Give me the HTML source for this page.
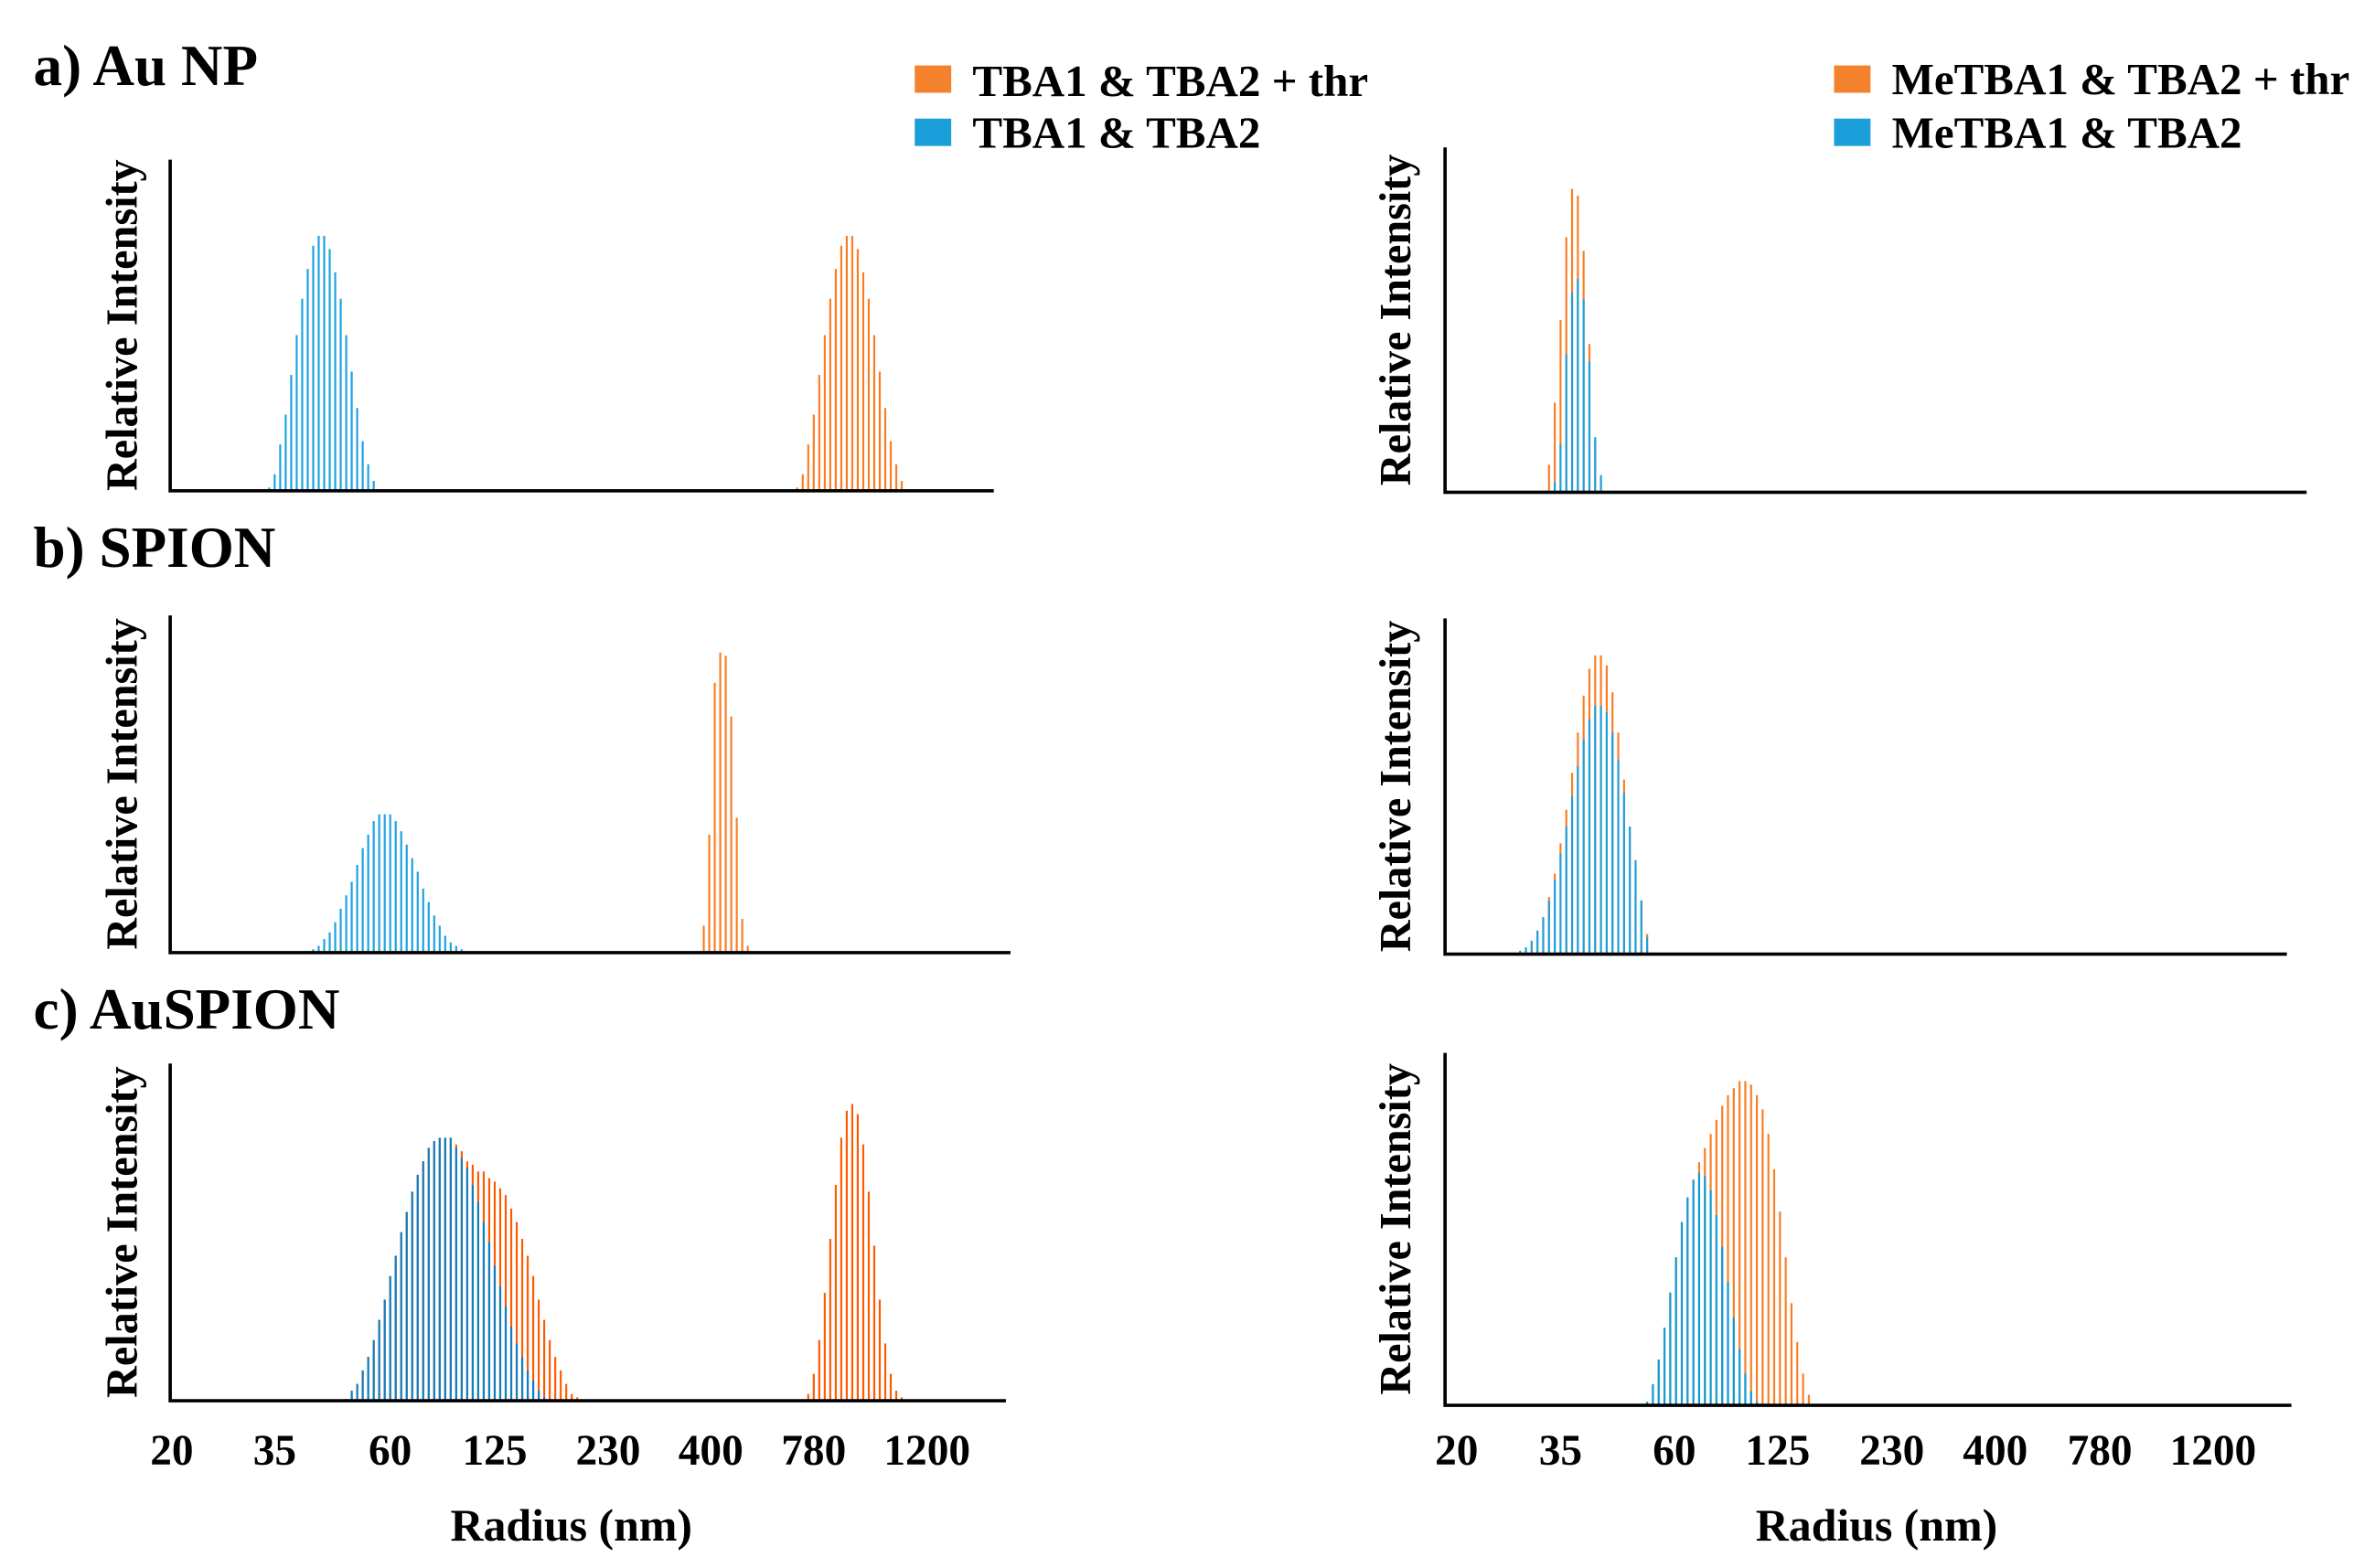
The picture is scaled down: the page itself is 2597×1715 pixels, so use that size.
<!DOCTYPE html>
<html><head><meta charset="utf-8"><title>DLS size distributions</title>
<style>
html,body{margin:0;padding:0;background:#fff;}
svg{display:block;}
text{font-family:"Liberation Serif",serif;font-weight:bold;fill:#000;}
</style></head>
<body>
<svg id="chart" width="2597" height="1715" viewBox="0 0 1563 1032" xmlns="http://www.w3.org/2000/svg">
  <g>
    <text x="22" y="56" font-size="38">a) Au NP</text>
    <text x="22" y="373" font-size="38">b) SPION</text>
    <text x="22" y="677" font-size="38">c) AuSPION</text>
  </g>
  <g>
    <rect x="602" y="43" width="24" height="18" fill="#F4812C"/>
    <text x="640" y="63" font-size="29.5">TBA1 &amp; TBA2 + thr</text>
    <rect x="602" y="78" width="24" height="18" fill="#1A9FDB"/>
    <text x="640" y="97" font-size="29.5">TBA1 &amp; TBA2</text>
  </g>
  <g>
    <rect x="1207" y="43" width="24" height="18" fill="#F4812C"/>
    <text x="1245" y="62" font-size="29.5">MeTBA1 &amp; TBA2 + thr</text>
    <rect x="1207" y="78" width="24" height="18" fill="#1A9FDB"/>
    <text x="1245" y="97" font-size="29.5">MeTBA1 &amp; TBA2</text>
  </g>
  <g id="plots"></g>
</svg>
<script>
// tick labels (radius, nm) and their bin positions
const tickLabels = ["20","35","60","125","230","400","780","1200"];
const leftTickBins = [0.3, 19, 40, 59, 79.6, 98.3, 117, 137.6];
const rightTickBins = [2, 20, 39.7, 57.6, 77.4, 95.3, 113.4, 133];

// Panel a, left
const aLeftBlueStart = 18;
const aLeftBlue = [1,5,14,23,35,47,58,67,74,77,77,73,66,58,47,36,25,15,8,3];
const aLeftOrangeStart = 114;
const aLeftOrange = [1,5,14,23,35,47,58,67,74,77,77,73,66,58,47,36,25,15,8,3];
// Panel a, right
const aRightOrangeStart = 18;
const aRightOrange = [8,26,50,74,88,86,70,43,15,4];
const aRightBlueStart = 19;
const aRightBlue = [3,14,40,58,62,56,38,16,5];
// Panel b, left
const bLeftBlueStart = 26;
const bLeftBlue = [1,2,4,6,9,13,17,21,26,31,35,39,41,41,41,39,36,32,28,24,19,15,11,8,5,3,2,1];
const bLeftOrangeStart = 97;
const bLeftOrange = [8,35,80,89,88,70,40,10,2];
// Panel b, right
const bRightOrangeStart = 13;
const bRightOrange = [1,2,4,7,11,17,24,33,43,54,66,77,85,89,89,86,78,66,52,38,26,16,6];
const bRightBlueStart = 13;
const bRightBlue = [1,2,4,7,11,16,22,30,38,47,56,64,70,74,74,72,66,58,48,38,28,16,5];
// Panel c, left
const cLeftBlueStart = 32;
const cLeftBlue = [0.5,3,5,9,13,18,24,30,37,43,50,56,62,67,71,75,77,78,78,78,75,72,69,64,59,53,47,40,34,28,22,17,13,9,6,3,1,0.5];
const cLeftOrangeStart = 32;
const cLeftOrange = [0.5,3,5,9,13,18,24,30,37,43,50,56,62,67,71,75,77,78,78,78,76,74,71,70,68,68,66,65,63,61,57,53,48,43,37,30,24,18,13,9,5,2,1];
const cLeftOrange2Start = 116;
const cLeftOrange2 = [2,8,18,32,48,64,78,86,88,85,76,62,46,30,17,8,3,1];
// Panel c, right
const cRightBlueStart = 35;
const cRightBlue = [1,6,13,22,32,42,52,59,64,66,65,61,54,45,35,25,16,9,4,1];
const cRightOrangeStart = 35;
const cRightOrange = [1,6,13,22,32,42,52,59,64,69,73,77,81,85,88,90,92,92,91,88,84,77,67,55,42,29,18,9,3];

const NS = "http://www.w3.org/2000/svg";
const root = document.getElementById("plots");

const panels = [
  {id:"a-left", x0:112, x1:654, top:105, base:323, step:3.62, ticks:false, yt:90,
   series:[[aLeftOrangeStart,aLeftOrange,"#FA7D22"],[aLeftBlueStart,aLeftBlue,"#1BA1E2"]]},
  {id:"a-right", x0:951, x1:1518, top:97, base:324, step:3.8, ticks:false, yt:928,
   series:[[aRightOrangeStart,aRightOrange,"#FA7D22"],[aRightBlueStart,aRightBlue,"#1BA1E2"]]},
  {id:"b-left", x0:112, x1:665, top:405, base:627, step:3.62, ticks:false, yt:90,
   series:[[bLeftOrangeStart,bLeftOrange,"#FA7D22"],[bLeftBlueStart,bLeftBlue,"#1BA1E2"]]},
  {id:"b-right", x0:951, x1:1505, top:407, base:628, step:3.8, ticks:false, yt:928,
   series:[[bRightOrangeStart,bRightOrange,"#FA7D22"],[bRightBlueStart,bRightBlue,"#1BA1E2"]]},
  {id:"c-left", x0:112, x1:662, top:700, base:922, step:3.62, ticks:true, tb:leftTickBins, xt:376, yt:90,
   series:[[cLeftOrangeStart,cLeftOrange,"#FF5A00"],[cLeftOrange2Start,cLeftOrange2,"#FF5A00"],[cLeftBlueStart,cLeftBlue,"#0A7FC6"]]},
  {id:"c-right", x0:951, x1:1508, top:693, base:925, step:3.8, ticks:true, tb:rightTickBins, xt:1235, yt:928,
   series:[[cRightOrangeStart,cRightOrange,"#FA7D22"],[cRightBlueStart,cRightBlue,"#0A9DDB"]]}
];

function mk(tag, attrs){ const e=document.createElementNS(NS,tag); for(const k in attrs) e.setAttribute(k,attrs[k]); return e; }

panels.forEach(p=>{
  const g = mk("g",{});
  
  
  root.appendChild(g);
  const xs = i => p.x0 + i*p.step;
  const ys = v => p.base - v/100*(p.base-p.top);
  p.series.forEach(s=>{
    const start=s[0], vals=s[1], col=s[2];
    vals.forEach((v,k)=>{
      const x = xs(start+k);
      const r = mk("rect",{x:(x-0.65).toFixed(2), y:ys(v).toFixed(2), width:1.3, height:(p.base-ys(v)).toFixed(2), fill:col});
      
      
      g.appendChild(r);
    });
  });
  const ax = mk("path",{d:`M${p.x0} ${p.top} L${p.x0} ${p.base} L${p.x1} ${p.base}`, stroke:"#000", "stroke-width":2.2, fill:"none"});
  
  
  g.appendChild(ax);
  const cy = (p.top+p.base)/2;
  const yt = mk("text",{x:p.yt, y:cy, "font-size":29, "text-anchor":"middle", transform:`rotate(-90 ${p.yt} ${cy})`});
  yt.textContent = "Relative Intensity";
  
  
  g.appendChild(yt);
  if(p.ticks){
    tickLabels.forEach((t,k)=>{
      const tx = mk("text",{x:xs(p.tb[k]).toFixed(1), y:964, "font-size":28.5, "text-anchor":"middle"});
      tx.textContent = t;
      
      
      g.appendChild(tx);
    });
    const xt = mk("text",{x:p.xt, y:1014, "font-size":30, "text-anchor":"middle"});
    xt.textContent = "Radius (nm)";
    
    
    g.appendChild(xt);
  }
});
</script>
</body></html>
